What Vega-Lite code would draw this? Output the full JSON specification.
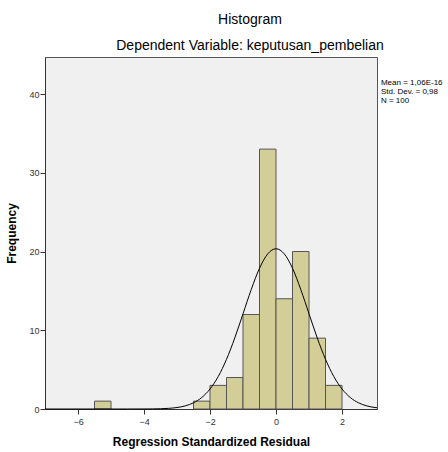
{
  "$schema": "https://vega.github.io/schema/vega-lite/v6.json",
  "width": 332,
  "height": 352,
  "autosize": "none",
  "padding": {"left": 45, "top": 57, "right": 71, "bottom": 43},
  "background": "white",
  "title": {
    "text": "Histogram",
    "subtitle": "Dependent Variable: keputusan_pembelian",
    "anchor": "middle",
    "frame": "group",
    "dx": 39,
    "offset": 4,
    "font": "Liberation Sans",
    "fontSize": 14,
    "fontWeight": "normal",
    "color": "#000000",
    "subtitleFont": "Liberation Sans",
    "subtitleFontSize": 14,
    "subtitleColor": "#000000",
    "subtitlePadding": 12
  },
  "config": {
    "view": {"fill": "#f0f0f0", "stroke": "#555555", "strokeWidth": 1},
    "axis": {
      "labelFont": "Liberation Sans",
      "labelFontSize": 9,
      "labelColor": "#333333",
      "titleFont": "Liberation Sans",
      "titleFontSize": 12,
      "titleFontWeight": "bold",
      "titleColor": "#000000",
      "tickColor": "#333333",
      "tickSize": 5,
      "domainColor": "#333333",
      "grid": false
    }
  },
  "layer": [
    {
      "data": {
        "values": [
          {"bin_start": -5.5, "bin_end": -5.0, "count": 1},
          {"bin_start": -2.5, "bin_end": -2.0, "count": 1},
          {"bin_start": -2.0, "bin_end": -1.5, "count": 3},
          {"bin_start": -1.5, "bin_end": -1.0, "count": 4},
          {"bin_start": -1.0, "bin_end": -0.5, "count": 12},
          {"bin_start": -0.5, "bin_end": 0.0, "count": 33},
          {"bin_start": 0.0, "bin_end": 0.5, "count": 14},
          {"bin_start": 0.5, "bin_end": 1.0, "count": 20},
          {"bin_start": 1.0, "bin_end": 1.5, "count": 9},
          {"bin_start": 1.5, "bin_end": 2.0, "count": 3}
        ]
      },
      "mark": {"type": "rect", "fill": "#d3ce98", "stroke": "#555555", "strokeWidth": 1},
      "encoding": {
        "x": {
          "field": "bin_start",
          "type": "quantitative",
          "scale": {"domain": [-7, 3.06], "nice": false, "zero": false},
          "axis": {"values": [-6, -4, -2, 0, 2], "title": "Regression Standardized Residual", "titlePadding": 10, "labelPadding": 3}
        },
        "x2": {"field": "bin_end"},
        "y": {
          "field": "count",
          "type": "quantitative",
          "scale": {"domain": [0, 44.7], "nice": false},
          "axis": {"values": [0, 10, 20, 30, 40], "title": "Frequency", "titlePadding": 10, "labelPadding": 1}
        },
        "y2": {"datum": 0}
      }
    },
    {
      "data": {
        "values": [
          {"x": -7.0, "density": 0.0},
          {"x": -4.5, "density": 0.0},
          {"x": -4.0, "density": 0.005},
          {"x": -3.75, "density": 0.0135},
          {"x": -3.5, "density": 0.035},
          {"x": -3.25, "density": 0.083},
          {"x": -3.0, "density": 0.188},
          {"x": -2.75, "density": 0.397},
          {"x": -2.5, "density": 0.786},
          {"x": -2.25, "density": 1.46},
          {"x": -2.0, "density": 2.54},
          {"x": -1.75, "density": 4.13},
          {"x": -1.5, "density": 6.31},
          {"x": -1.25, "density": 9.02},
          {"x": -1.0, "density": 12.09},
          {"x": -0.75, "density": 15.18},
          {"x": -0.5, "density": 17.87},
          {"x": -0.25, "density": 19.70},
          {"x": 0.0, "density": 20.35},
          {"x": 0.25, "density": 19.70},
          {"x": 0.5, "density": 17.87},
          {"x": 0.75, "density": 15.18},
          {"x": 1.0, "density": 12.09},
          {"x": 1.25, "density": 9.02},
          {"x": 1.5, "density": 6.31},
          {"x": 1.75, "density": 4.13},
          {"x": 2.0, "density": 2.54},
          {"x": 2.25, "density": 1.46},
          {"x": 2.5, "density": 0.786},
          {"x": 2.75, "density": 0.397},
          {"x": 3.0, "density": 0.188},
          {"x": 3.06, "density": 0.16}
        ]
      },
      "mark": {"type": "line", "color": "#000000", "strokeWidth": 1, "interpolate": "monotone"},
      "encoding": {
        "x": {"field": "x", "type": "quantitative"},
        "y": {"field": "density", "type": "quantitative"}
      }
    },
    {
      "data": {"values": [{"stats": "Mean = 1,06E-16|Std. Dev. = 0,98|N = 100"}]},
      "mark": {
        "type": "text",
        "align": "left",
        "baseline": "top",
        "font": "Liberation Sans",
        "fontSize": 8,
        "lineHeight": 9,
        "lineBreak": "|",
        "color": "#000000",
        "clip": false
      },
      "encoding": {
        "text": {"field": "stats"},
        "x": {"datum": 3.18},
        "y": {"datum": 41.9}
      }
    }
  ]
}
